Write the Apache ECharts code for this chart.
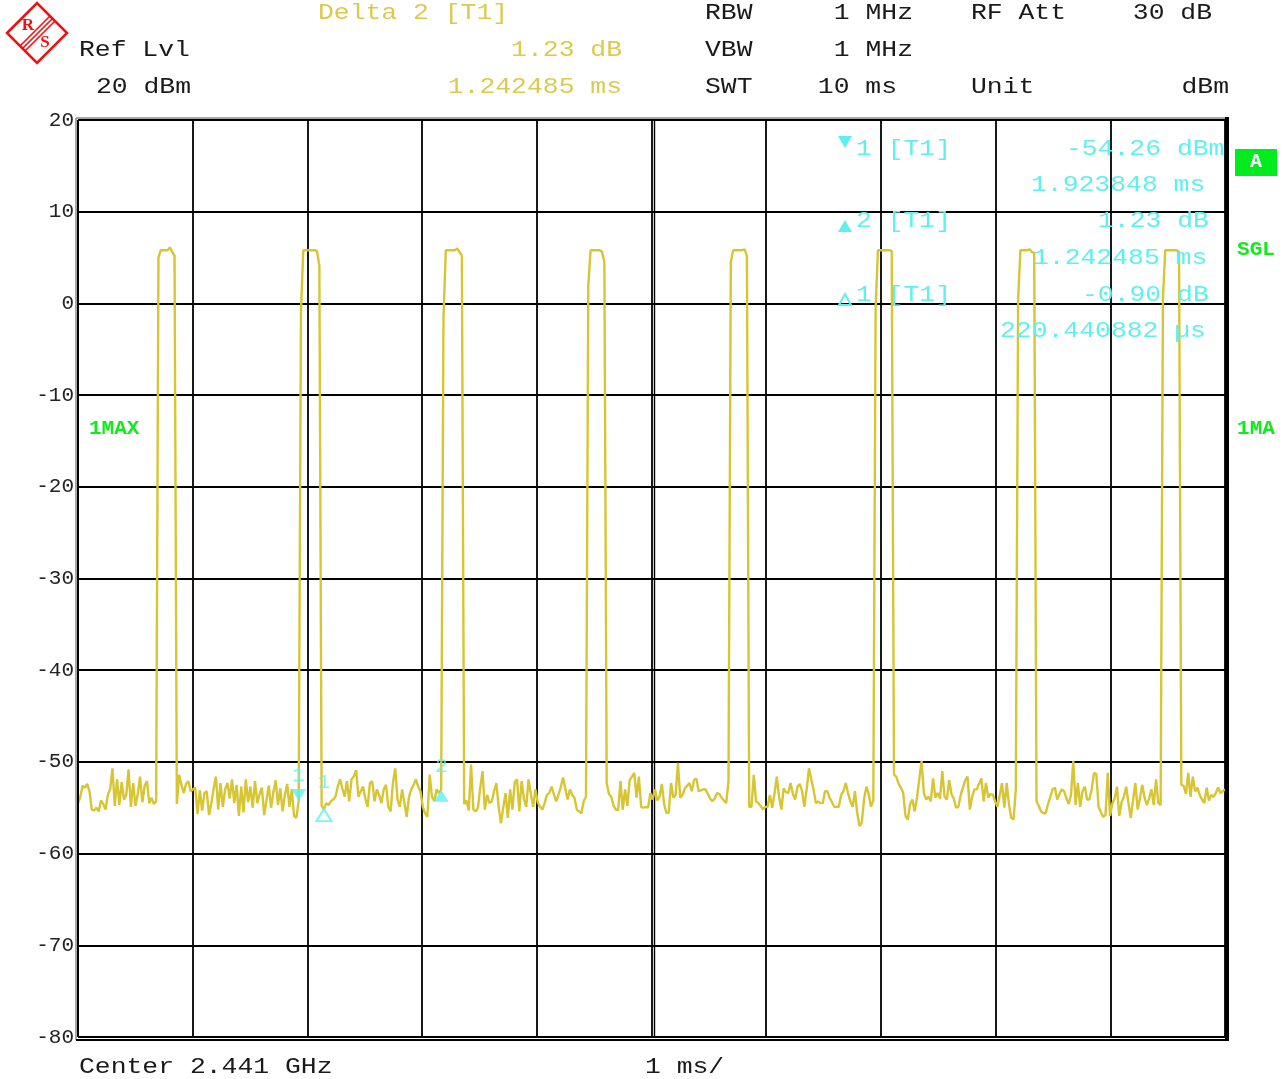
<!DOCTYPE html>
<html>
<head>
<meta charset="utf-8">
<script src="https://cdn.jsdelivr.net/npm/echarts@6/dist/echarts.min.js"></script>
<style>
  html, body { margin: 0; padding: 0; background: #fff; }
  #main { width: 1283px; height: 1079px; }
</style>
</head>
<body>
<div id="main"></div>
<script>
// sweep: 10 ms, 500 points (marker readouts are multiples of 10/499 ms)
const sweepMs = 10;
const sweepPoints = 500;

// trace 1 (max hold), dBm per sweep point
const traceDbm = [
  -54.5, -53.8, -52.6, -52.8, -52.4, -53.2, -55.2, -55.3, -55.0, -55.4,
  -54.2, -54.6, -55.2, -53.6, -53.0, -50.7, -54.8, -51.9, -54.7, -52.2,
  -54.1, -53.6, -50.8, -54.9, -52.3, -54.8, -53.5, -51.6, -54.4, -52.6,
  -52.1, -54.5, -53.9, -54.6, -54.3, 5.0, 5.8, 5.8, 5.8, 5.8,
  6.1, 5.6, 5.2, -54.6, -51.4, -52.5, -53.4, -52.4, -52.1, -53.2,
  -53.0, -52.8, -55.7, -53.1, -55.3, -53.4, -53.2, -55.8, -54.5, -52.9,
  -51.6, -55.2, -52.3, -54.9, -53.0, -52.3, -54.0, -51.9, -54.5, -52.5,
  -55.9, -52.7, -55.5, -51.9, -54.4, -52.7, -55.0, -52.1, -54.5, -53.5,
  -52.8, -55.8, -54.2, -52.6, -55.0, -53.3, -52.0, -54.7, -52.9, -55.4,
  -53.6, -52.4, -54.9, -53.0, -55.9, -56.1, -54.26, -1.0, 5.8, 5.8,
  5.8, 5.8, 5.8, 5.8, 5.7, 4.1, -54.8, -55.16, -54.5, -54.7,
  -54.3, -54.1, -53.8, -52.7, -51.9, -52.9, -53.8, -52.1, -54.3, -51.9,
  -51.6, -50.9, -53.8, -53.2, -52.7, -54.0, -54.9, -52.3, -52.1, -54.3,
  -53.0, -53.6, -54.5, -53.0, -52.5, -54.9, -55.4, -52.3, -50.7, -54.1,
  -54.9, -53.0, -54.5, -56.0, -53.8, -53.0, -52.5, -51.9, -52.7, -53.2,
  -54.9, -55.6, -56.0, -51.4, -53.8, -54.3, -53.0, -53.4, -53.03, -1.5,
  5.8, 5.8, 5.8, 5.8, 5.8, 6.0, 5.6, 5.2, -54.6, -54.2,
  -55.3, -50.3, -55.2, -55.4, -55.0, -52.8, -51.0, -55.2, -53.6, -54.5,
  -54.3, -53.2, -52.3, -54.9, -56.7, -55.0, -53.4, -56.1, -53.0, -55.2,
  -52.2, -51.9, -55.4, -52.1, -54.0, -54.9, -51.9, -53.5, -54.9, -53.0,
  -54.4, -54.9, -55.2, -54.5, -53.6, -53.4, -52.7, -53.5, -54.3, -53.6,
  -52.8, -51.7, -52.9, -54.1, -53.0, -53.6, -53.9, -55.2, -55.4, -55.6,
  -54.3, -53.8, 2.0, 5.8, 5.8, 5.8, 5.8, 5.8, 5.6, 4.5,
  -52.3, -53.5, -53.8, -54.8, -55.2, -55.3, -52.1, -55.2, -53.0, -54.8,
  -52.0, -51.6, -51.2, -53.9, -51.6, -54.9, -55.0, -54.9, -55.0, -53.4,
  -54.1, -53.0, -54.2, -53.8, -52.4, -54.6, -55.6, -55.5, -52.3, -53.9,
  -53.6, -50.1, -53.9, -53.6, -52.9, -52.6, -52.3, -53.2, -52.0, -51.8,
  -53.2, -53.1, -53.0, -53.0, -53.5, -54.0, -54.3, -54.0, -53.4, -53.5,
  -53.9, -54.2, -54.5, -52.1, 4.5, 5.8, 5.8, 5.8, 5.8, 5.8,
  5.9, 5.2, -54.9, -54.9, -51.4, -54.3, -54.5, -54.8, -55.2, -54.9,
  -54.9, -53.6, -55.0, -53.5, -51.6, -53.8, -55.2, -52.9, -53.3, -53.4,
  -52.3, -53.5, -54.1, -52.7, -52.4, -53.2, -54.9, -53.0, -50.7, -51.9,
  -53.0, -54.5, -54.3, -54.5, -54.5, -53.2, -53.2, -53.9, -54.4, -54.9,
  -54.9, -54.9, -53.6, -53.2, -52.3, -53.4, -54.3, -54.9, -53.2, -55.6,
  -57.0, -56.6, -54.0, -52.7, -53.5, -54.9, -54.2, -0.5, 5.8, 5.8,
  5.8, 5.8, 5.8, 5.8, 5.7, -51.4, -51.6, -52.4, -52.8, -53.4,
  -55.9, -56.3, -54.6, -54.1, -55.4, -53.9, -51.9, -49.9, -53.4, -54.1,
  -53.8, -54.3, -51.8, -53.9, -53.4, -54.0, -51.0, -53.8, -54.1, -52.0,
  -53.5, -54.0, -55.0, -54.9, -53.6, -52.8, -52.0, -51.6, -55.2, -53.8,
  -53.0, -53.0, -52.4, -51.8, -54.3, -52.3, -53.9, -53.5, -53.6, -54.3,
  -54.9, -53.6, -52.3, -55.0, -52.3, -54.6, -56.1, -56.3, -53.0, 0.5,
  5.8, 5.8, 5.8, 5.8, 5.9, 5.6, 5.5, -54.3, -54.8, -55.4,
  -55.6, -55.6, -54.6, -53.8, -53.0, -52.8, -54.1, -53.5, -53.0, -53.2,
  -54.0, -54.6, -53.6, -49.9, -54.7, -52.3, -54.9, -53.2, -52.7, -54.1,
  -54.1, -53.0, -51.2, -51.3, -54.9, -55.5, -56.0, -55.8, -51.2, -55.9,
  -54.5, -54.0, -52.7, -55.9, -54.4, -53.8, -52.7, -54.5, -56.1, -54.2,
  -52.3, -55.2, -54.0, -52.5, -53.9, -54.7, -54.0, -53.0, -54.7, -51.9,
  -54.5, -54.7, 0.5, 5.8, 5.8, 5.8, 5.8, 5.8, 5.8, 5.6,
  -52.5, -52.6, -53.5, -51.2, -53.8, -51.6, -53.2, -52.8, -53.6, -54.1,
  -54.5, -52.8, -54.2, -53.6, -53.8, -53.4, -52.8, -53.4, -53.2, -53.0
];

// markers: 1 (abs), 2 (delta to 1), delta 1
const markerNames = ['1', '2', '1'];
const markerKinds = ['down', 'up', 'delta'];
const markerMs = [1.923848, 1.923848 + 1.242485, 1.923848 + 0.220440882];
const markerDbm = [-54.26, -54.26 + 1.23, -54.26 - 0.90];

const yMin = -80, yMax = 20, yStep = 10;

const plot = { left: 78, top: 120, width: 1147, height: 917 };
const MONO = '"Liberation Mono", "Courier New", monospace';
const YELLOW = '#dbca4e';
const TRACE = '#d7c534';
const CYAN = '#5ef0f0';
const GREEN = '#14e81e';
const INK = '#1a1a1a';
const RED = '#ee1111';

const stepMs = sweepMs / (sweepPoints - 1);
const traceData = traceDbm.map((v, i) => [i * stepMs, v]);

// courier-ish text, stretched a bit to match the analyzer font pitch
function txt(s, x, y, color, align, extra) {
  return Object.assign({
    type: 'text', x: x, y: y, scaleX: 1.2, z: 20,
    style: {
      text: s, fill: color, font: '22px ' + MONO,
      textAlign: align || 'left', align: align || 'left',
      textVerticalAlign: 'middle', verticalAlign: 'middle'
    }
  }, extra || {});
}

function boldTxt(s, x, y, color, align, size) {
  return {
    type: 'text', x: x, y: y, z: 20,
    style: {
      text: s, fill: color, font: 'bold ' + size + 'px ' + MONO,
      textAlign: align, align: align,
      textVerticalAlign: 'middle', verticalAlign: 'middle'
    }
  };
}

const header = [
  ['Delta 2 [T1]', 318, 13, YELLOW, 'left'],
  ['Ref Lvl', 79, 50, INK, 'left'],
  ['1.23 dB', 622, 50, YELLOW, 'right'],
  ['20 dBm', 96, 87, INK, 'left'],
  ['1.242485 ms', 622, 87, YELLOW, 'right'],
  ['RBW', 705, 13, INK, 'left'],
  ['1 MHz', 913, 13, INK, 'right'],
  ['RF Att', 971, 13, INK, 'left'],
  ['30 dB', 1212, 13, INK, 'right'],
  ['VBW', 705, 50, INK, 'left'],
  ['1 MHz', 913, 50, INK, 'right'],
  ['SWT', 705, 87, INK, 'left'],
  ['10 ms', 897, 87, INK, 'right'],
  ['Unit', 971, 87, INK, 'left'],
  ['dBm', 1229, 87, INK, 'right'],
  ['Center 2.441 GHz', 79, 1067, INK, 'left'],
  ['1 ms/', 645, 1067, INK, 'left'],
  // marker readout table
  ['1 [T1]', 856, 149, CYAN, 'left'],
  ['-54.26 dBm', 1066, 149, CYAN, 'left'],
  ['1.923848 ms', 1031, 185, CYAN, 'left'],
  ['2 [T1]', 856, 221, CYAN, 'left'],
  ['1.23 dB', 1098, 221, CYAN, 'left'],
  ['1.242485 ms', 1033, 258, CYAN, 'left'],
  ['1 [T1]', 856, 295, CYAN, 'left'],
  ['-0.90 dB', 1082, 295, CYAN, 'left'],
  ['220.440882 µs', 1000, 331, CYAN, 'left']
];

const R = plot.left + plot.width, B = plot.top + plot.height;

const graphics = header.map(h => txt(h[0], h[1], h[2], h[3], h[4]));

// frame: grey/black double on left, top, bottom; heavy bar on the right
graphics.push(
  { type: 'line', z: 5, shape: { x1: plot.left - 2, y1: plot.top - 2, x2: R + 2, y2: plot.top - 2 }, style: { stroke: '#8a8a8a', lineWidth: 1.5 } },
  { type: 'line', z: 5, shape: { x1: plot.left - 2, y1: plot.top - 2, x2: plot.left - 2, y2: B + 3 }, style: { stroke: '#8a8a8a', lineWidth: 1.5 } },
  { type: 'line', z: 5, shape: { x1: plot.left - 2, y1: B + 3, x2: R + 2, y2: B + 3 }, style: { stroke: '#000', lineWidth: 2 } },
  { type: 'line', z: 5, shape: { x1: plot.left, y1: plot.top, x2: plot.left, y2: B }, style: { stroke: '#000', lineWidth: 2 } },
  { type: 'line', z: 5, shape: { x1: plot.left, y1: plot.top, x2: R, y2: plot.top }, style: { stroke: '#000', lineWidth: 2 } },
  { type: 'line', z: 5, shape: { x1: plot.left, y1: B, x2: R, y2: B }, style: { stroke: '#000', lineWidth: 2 } },
  { type: 'rect', z: 5, shape: { x: R, y: plot.top - 3, width: 4, height: plot.height + 7 }, style: { fill: '#000' } },
  // centre line is drawn double on the analyzer
  { type: 'line', z: 1, shape: { x1: plot.left + plot.width / 2 + 3, y1: plot.top, x2: plot.left + plot.width / 2 + 3, y2: B }, style: { stroke: '#000', lineWidth: 1.4 } }
);

// marker symbols in the readout table
graphics.push(
  { type: 'polygon', z: 20, shape: { points: [[838, 136], [852, 136], [845, 148]] }, style: { fill: CYAN } },
  { type: 'polygon', z: 20, shape: { points: [[838, 232], [852, 232], [845, 220]] }, style: { fill: CYAN } },
  { type: 'polygon', z: 20, shape: { points: [[839, 305], [851, 305], [845, 294]] }, style: { fill: 'none', stroke: CYAN, lineWidth: 2 } }
);

// status labels right / left of the screen
graphics.push(
  { type: 'rect', z: 20, shape: { x: 1235, y: 149, width: 42, height: 27 }, style: { fill: '#00ec1e' } },
  boldTxt('A', 1256, 162, '#ffffff', 'center', 20),
  boldTxt('SGL', 1256, 250, GREEN, 'center', 21),
  boldTxt('1MA', 1256, 429, GREEN, 'center', 21),
  boldTxt('1MAX', 89, 429, GREEN, 'left', 21)
);

// R&S logo
graphics.push(
  { type: 'polygon', z: 20, shape: { points: [[7, 33], [37, 3], [67, 33], [37, 63]] }, style: { fill: 'none', stroke: RED, lineWidth: 2.5 } },
  { type: 'line', z: 20, shape: { x1: 20, y1: 46, x2: 50, y2: 16 }, style: { stroke: RED, lineWidth: 1.6 } },
  { type: 'line', z: 20, shape: { x1: 22.5, y1: 48.5, x2: 52.5, y2: 18.5 }, style: { stroke: RED, lineWidth: 1.6 } },
  { type: 'line', z: 20, shape: { x1: 25, y1: 51, x2: 55, y2: 21 }, style: { stroke: RED, lineWidth: 1.6 } },
  { type: 'text', z: 20, x: 28, y: 26, style: { text: 'R', fill: RED, font: 'bold 17px "Liberation Serif"', textAlign: 'center', align: 'center', textVerticalAlign: 'middle', verticalAlign: 'middle' } },
  { type: 'text', z: 20, x: 45, y: 43, style: { text: 'S', fill: RED, font: 'bold 17px "Liberation Serif"', textAlign: 'center', align: 'center', textVerticalAlign: 'middle', verticalAlign: 'middle' } }
);

const markerData = markerMs.map((t, i) => {
  const kind = markerKinds[i];
  return {
    value: [t, markerDbm[i]],
    name: markerNames[i],
    symbolRotate: kind === 'down' ? 180 : 0,
    symbolOffset: [0, kind === 'down' ? -6 : 6],
    itemStyle: kind === 'delta'
      ? { color: '#ffffff', borderColor: CYAN, borderWidth: 2 }
      : { color: CYAN },
    label: { distance: kind === 'down' ? 3 : (kind === 'up' ? 13 : 15) }
  };
});

const chart = echarts.init(document.getElementById('main'), null, { renderer: 'canvas' });
chart.setOption({
  animation: false,
  backgroundColor: '#ffffff',
  grid: {
    left: plot.left, top: plot.top, width: plot.width, height: plot.height,
    containLabel: false, outerBoundsMode: 'none'
  },
  xAxis: {
    type: 'value', min: 0, max: sweepMs, interval: 1,
    axisLine: { show: false }, axisTick: { show: false }, axisLabel: { show: false },
    splitLine: { show: true, lineStyle: { color: '#000', width: 1.8 } }
  },
  yAxis: {
    type: 'value', min: yMin, max: yMax, interval: yStep,
    axisLine: { show: false }, axisTick: { show: false },
    axisLabel: {
      show: true, margin: 4, color: '#222', fontFamily: MONO, fontSize: 21,
      showMinLabel: true, showMaxLabel: true
    },
    splitLine: { show: true, lineStyle: { color: '#000', width: 1.8 } }
  },
  series: [
    {
      name: 'Trace 1',
      type: 'line',
      data: traceData,
      showSymbol: false,
      symbol: 'none',
      lineStyle: { color: TRACE, width: 2.4 },
      z: 3
    },
    {
      name: 'Markers',
      type: 'scatter',
      data: markerData,
      symbol: 'triangle',
      symbolSize: [15, 12],
      label: {
        show: true, position: 'top', formatter: p => p.name,
        color: CYAN, fontFamily: MONO, fontSize: 21
      },
      z: 6
    }
  ],
  graphic: graphics
});
</script>
</body>
</html>
